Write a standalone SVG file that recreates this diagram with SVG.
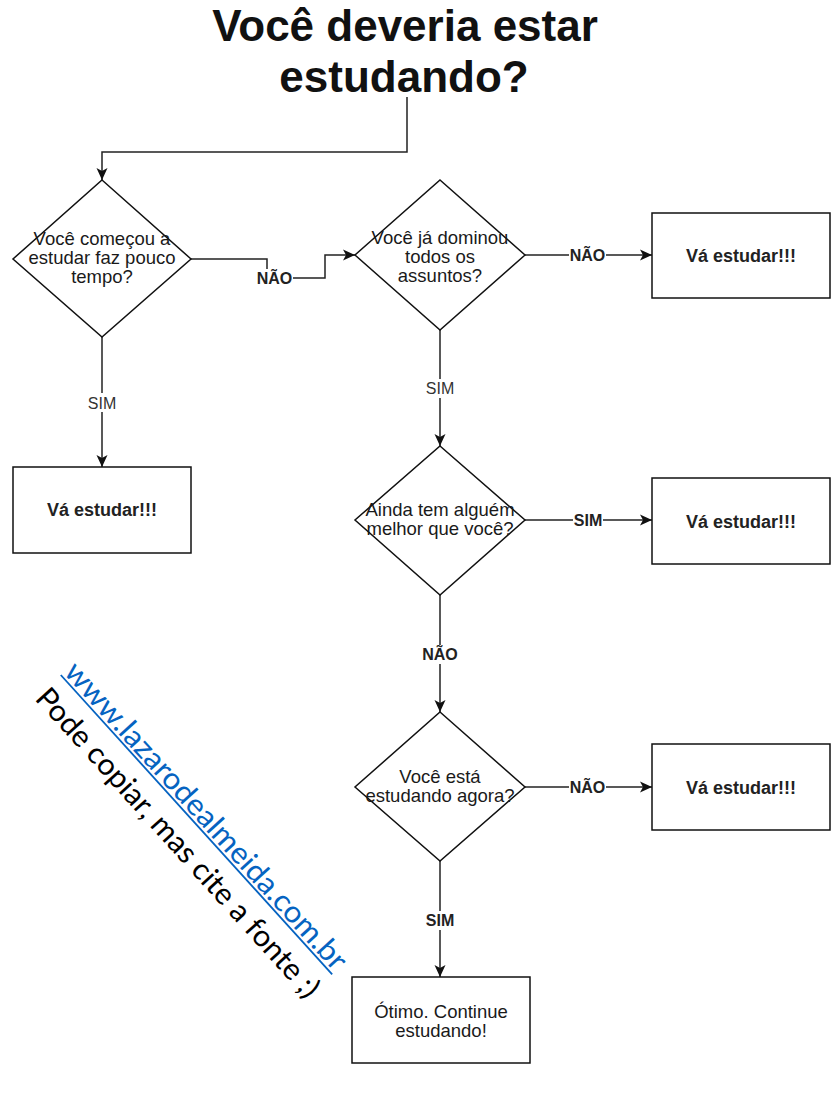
<svg xmlns="http://www.w3.org/2000/svg" width="831" height="1102" viewBox="0 0 831 1102">
<defs>
<style>
.shape{fill:#fff;stroke:#111;stroke-width:1.5}
.edge{fill:none;stroke:#222;stroke-width:1.5;marker-end:url(#arr)}
.t{font-family:"Liberation Sans",Arial,sans-serif;font-size:18.5px;fill:#1a1a1a;text-anchor:middle}
.tb{font-family:"Liberation Sans",Arial,sans-serif;font-size:18px;font-weight:bold;fill:#222;text-anchor:middle}
.lbl{font-family:"Liberation Sans",Arial,sans-serif;font-size:16px;fill:#333;text-anchor:middle}
.lblb{font-family:"Liberation Sans",Arial,sans-serif;font-size:16px;font-weight:bold;fill:#222;text-anchor:middle}
.bg{fill:#fff}
.title{font-family:"Liberation Sans",Arial,sans-serif;font-size:44px;font-weight:bold;fill:#111;text-anchor:middle}
.wm{font-family:Lato,"Open Sans",sans-serif;font-size:30px}
</style>
<marker id="arr" markerUnits="userSpaceOnUse" markerWidth="12" markerHeight="12" viewBox="0 0 12 12" refX="12" refY="6" orient="auto">
<path d="M0,0.5 L12,6 L0,11.5 L3,6 Z" fill="#111"/>
</marker>
</defs>
<rect width="831" height="1102" fill="#fff"/>

<g id="title">
<text class="title" x="405" y="41">Você deveria estar</text>
<text class="title" x="404" y="92">estudando?</text>
</g>

<g id="connectors">
<path class="edge" d="M407,97 V152 H102 V180"/>
<path class="edge" d="M191,259 H267 V278 H325 V255 H355"/>
<path class="edge" d="M102,337 V467"/>
<path class="edge" d="M525,255 H652"/>
<path class="edge" d="M440,330 V446"/>
<path class="edge" d="M525,520 H652"/>
<path class="edge" d="M440,595 V712"/>
<path class="edge" d="M525,787 H652"/>
<path class="edge" d="M440,861 V977"/>
<g id="lbl1"><rect class="bg" x="256" y="269" width="37" height="18"/><text class="lblb" x="274.5" y="283.5">NÃO</text></g>
<g id="lbl2"><rect class="bg" x="87" y="393" width="30" height="19"/><text class="lbl" x="102" y="408.5">SIM</text></g>
<g id="lbl3"><rect class="bg" x="569" y="246" width="37" height="18"/><text class="lblb" x="587.5" y="260.5">NÃO</text></g>
<g id="lbl4"><rect class="bg" x="425" y="379" width="30" height="19"/><text class="lbl" x="440" y="394">SIM</text></g>
<g id="lbl5"><rect class="bg" x="573" y="511" width="30" height="18"/><text class="lblb" x="588" y="525.5">SIM</text></g>
<g id="lbl6"><rect class="bg" x="421.5" y="645" width="37" height="19"/><text class="lblb" x="440" y="660">NÃO</text></g>
<g id="lbl7"><rect class="bg" x="569" y="778" width="37" height="18"/><text class="lblb" x="587.5" y="792.5">NÃO</text></g>
<g id="lbl8"><rect class="bg" x="425" y="911" width="30" height="19"/><text class="lblb" x="440" y="925.5">SIM</text></g>
</g>

<g id="d1">
<polygon class="shape" points="102,180 191,259 102,337 13,259"/>
<text class="t" x="102" y="245">Você começou a</text>
<text class="t" x="102" y="264">estudar faz pouco</text>
<text class="t" x="102" y="283">tempo?</text>
</g>

<g id="d2">
<polygon class="shape" points="440,180 525,255 440,330 355,255"/>
<text class="t" x="440" y="244">Você já dominou</text>
<text class="t" x="440" y="263">todos os</text>
<text class="t" x="440" y="282">assuntos?</text>
</g>

<g id="d3">
<polygon class="shape" points="440,446 525,520 440,595 355,520"/>
<text class="t" x="440" y="516">Ainda tem alguém</text>
<text class="t" x="440" y="535">melhor que você?</text>
</g>

<g id="d4">
<polygon class="shape" points="440,712 525,787 440,861 355,787"/>
<text class="t" x="440" y="783">Você está</text>
<text class="t" x="440" y="802">estudando agora?</text>
</g>

<g id="b1">
<rect class="shape" x="652" y="213" width="178" height="85"/>
<text class="tb" x="741" y="262">Vá estudar!!!</text>
</g>

<g id="b2">
<rect class="shape" x="13" y="467" width="178" height="86"/>
<text class="tb" x="102" y="516">Vá estudar!!!</text>
</g>

<g id="b3">
<rect class="shape" x="652" y="478" width="178" height="86"/>
<text class="tb" x="741" y="528">Vá estudar!!!</text>
</g>

<g id="b4">
<rect class="shape" x="652" y="744" width="178" height="86"/>
<text class="tb" x="741" y="794">Vá estudar!!!</text>
</g>

<g id="b5">
<rect class="shape" x="352" y="977" width="178" height="86"/>
<text class="t" x="441" y="1018">Ótimo. Continue</text>
<text class="t" x="441" y="1037">estudando!</text>
</g>

<g id="watermark" transform="translate(63,673) rotate(47.8)">
<text class="wm" x="0" y="0" fill="#0563C1" textLength="404" lengthAdjust="spacingAndGlyphs">www.lazarodealmeida.com.br</text>
<line x1="0" y1="3" x2="404" y2="3" stroke="#0563C1" stroke-width="1.8"/>
<text class="wm" x="0" y="39" fill="#000" textLength="406" lengthAdjust="spacingAndGlyphs">Pode copiar, mas cite a fonte ;)</text>
</g>
</svg>
